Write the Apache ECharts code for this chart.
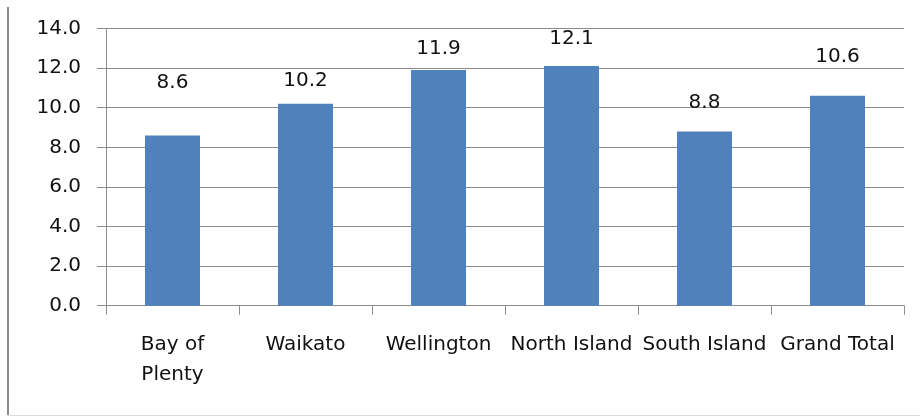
<!DOCTYPE html>
<html>
<head>
<meta charset="utf-8">
<script src="https://cdn.jsdelivr.net/npm/echarts@6/dist/echarts.min.js"></script>
<style>
  html, body { margin: 0; padding: 0; background: #ffffff; }
  #chart { width: 920px; height: 417px; }
</style>
</head>
<body>
<div id="chart"></div>
<script>
// Regions and their values
const categories = ['Bay of\nPlenty', 'Waikato', 'Wellington', 'North Island', 'South Island', 'Grand Total'];
const values = [8.6, 10.2, 11.9, 12.1, 8.8, 10.6];
const yTicks = { min: 0, max: 14, interval: 2 };

// Gap (px) between each bar top and its value label
const labelGap = [43, 13, 11, 17, 19, 29];

const FONT = 'DejaVu Sans';
const GRID_COLOR = '#8c8c8c';

const chart = echarts.init(document.getElementById('chart'), null, { renderer: 'canvas' });

chart.setOption({
  animation: false,
  backgroundColor: '#ffffff',
  textStyle: { fontFamily: FONT },
  grid: { left: 106, right: 16, top: 28.5, bottom: 111.3, containLabel: false },
  graphic: [
    { type: 'line', shape: { x1: 8, y1: 7, x2: 8, y2: 415 }, style: { stroke: '#8a8a8a', lineWidth: 2 } },
    { type: 'line', shape: { x1: 8, y1: 415.5, x2: 920, y2: 415.5 }, style: { stroke: '#dcdcdc', lineWidth: 1 } }
  ],
  xAxis: {
    type: 'category',
    data: categories,
    boundaryGap: true,
    axisLine: { show: true, lineStyle: { color: GRID_COLOR, width: 1 } },
    axisTick: { show: true, length: 9, inside: false, alignWithLabel: false, lineStyle: { color: GRID_COLOR } },
    axisLabel: {
      interval: 0,
      margin: 24,
      color: '#111111',
      fontFamily: FONT,
      fontSize: 20,
      lineHeight: 30
    },
    splitLine: { show: false }
  },
  yAxis: {
    type: 'value',
    min: yTicks.min,
    max: yTicks.max,
    interval: yTicks.interval,
    axisLine: { show: true, lineStyle: { color: GRID_COLOR, width: 1 } },
    axisTick: { show: true, length: 9, inside: false, lineStyle: { color: GRID_COLOR } },
    axisLabel: {
      margin: 25,
      color: '#111111',
      fontFamily: FONT,
      fontSize: 20,
      formatter: v => v.toFixed(1)
    },
    splitLine: { show: true, lineStyle: { color: GRID_COLOR, width: 1 } }
  },
  series: [{
    type: 'bar',
    barWidth: 55,
    itemStyle: { color: '#4f81bd' },
    data: values.map((v, i) => ({
      value: v,
      label: {
        show: true,
        position: 'top',
        distance: labelGap[i],
        color: '#111111',
        fontFamily: FONT,
        fontSize: 20,
        lineHeight: 20,
        formatter: p => p.value.toFixed(1)
      }
    }))
  }]
});
</script>
</body>
</html>
